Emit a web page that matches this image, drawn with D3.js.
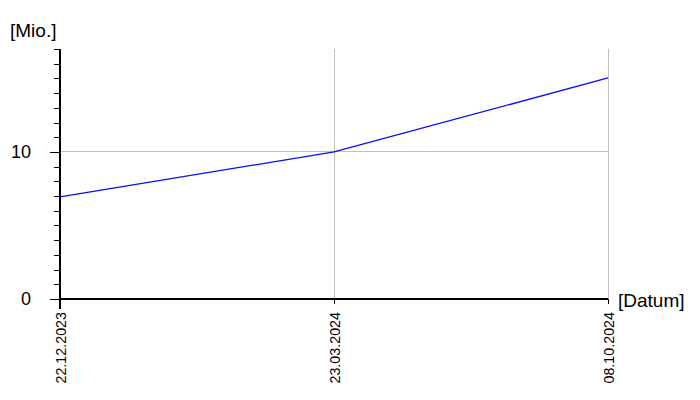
<!DOCTYPE html>
<html><head><meta charset="utf-8">
<script src="https://cdn.jsdelivr.net/npm/d3@7"></script>
<style>body{margin:0;background:#fff;} svg{display:block;} text{font-family:"Liberation Sans",Arial,sans-serif;}</style>
</head><body>
<svg id="c" width="700" height="400"></svg>
<script>
const categories = ["22.12.2023", "23.03.2024", "08.10.2024"];
const values = [6.95, 10.0, 15.03];
const yMajorTicks = [0, 10];
const yMinorTicks = d3.range(0, 18, 1);
const yLabel = "[Mio.]";
const xLabel = "[Datum]";

const svg = d3.select("#c");
const mLeft = 60, mRight = 608, mTop = 49, mBottom = 299;
const x = d3.scalePoint().domain(categories).range([mLeft, mRight]);
const y = d3.scaleLinear().domain([0, 17]).range([mBottom, mTop]);

// grid
svg.append("g").selectAll("line").data(categories.slice(1)).join("line")
  .attr("x1", d => x(d)).attr("x2", d => x(d)).attr("y1", mTop).attr("y2", mBottom + 3)
  .attr("stroke", "#c0c0c0").attr("stroke-width", 1).attr("shape-rendering", "crispEdges");
svg.append("g").selectAll("line").data(yMajorTicks.filter(d => d > 0)).join("line")
  .attr("x1", mLeft).attr("x2", mRight).attr("y1", d => y(d)).attr("y2", d => y(d))
  .attr("stroke", "#c0c0c0").attr("stroke-width", 1).attr("shape-rendering", "crispEdges");

// y axis
const yAxis = svg.append("g").attr("transform", `translate(${mLeft},0)`)
  .call(d3.axisLeft(y).tickValues(yMinorTicks).tickSize(6).tickFormat(""));
yAxis.select(".domain").remove();
yAxis.selectAll("line").attr("stroke", "#000").attr("shape-rendering", "crispEdges");
const yMaj = svg.append("g").attr("transform", `translate(${mLeft},0)`)
  .call(d3.axisLeft(y).tickValues(yMajorTicks).tickSize(10).tickPadding(19).tickFormat(d3.format("d")));
yMaj.select(".domain").remove();
yMaj.selectAll("line").attr("stroke", "#000").attr("shape-rendering", "crispEdges");
yMaj.selectAll("text").attr("font-size", 18).attr("fill", "#000").attr("font-family", "Liberation Sans, Arial, sans-serif");
svg.append("line").attr("x1", mLeft).attr("x2", mLeft).attr("y1", mTop).attr("y2", mBottom + 10)
  .attr("stroke", "#000").attr("stroke-width", 2).attr("shape-rendering", "crispEdges");

// x axis
const xAxis = svg.append("g").attr("transform", `translate(0,${mBottom})`)
  .call(d3.axisBottom(x).tickSize(5).tickPadding(6));
xAxis.select(".domain").remove();
xAxis.selectAll("line").attr("stroke", "#000").attr("shape-rendering", "crispEdges");
xAxis.selectAll("text").attr("font-size", 14.3).attr("fill", "#000")
  .attr("font-family", "Liberation Sans, Arial, sans-serif")
  .attr("transform", "rotate(-90)").attr("text-anchor", "end")
  .attr("x", -13).attr("y", 0).attr("dy", "0.35em");
svg.append("line").attr("x1", mLeft).attr("x2", mRight).attr("y1", mBottom).attr("y2", mBottom)
  .attr("stroke", "#000").attr("stroke-width", 2).attr("shape-rendering", "crispEdges");

// line
svg.append("path").datum(values)
  .attr("d", d3.line().x((d, i) => x(categories[i])).y(d => y(d)))
  .attr("fill", "none").attr("stroke", "#0a0aff").attr("stroke-width", 1.3);

// labels
svg.append("text").attr("x", 10).attr("y", 37).attr("font-size", 19).text(yLabel);
svg.append("text").attr("x", 618).attr("y", 307).attr("font-size", 19).text(xLabel);
</script>
</body></html>
